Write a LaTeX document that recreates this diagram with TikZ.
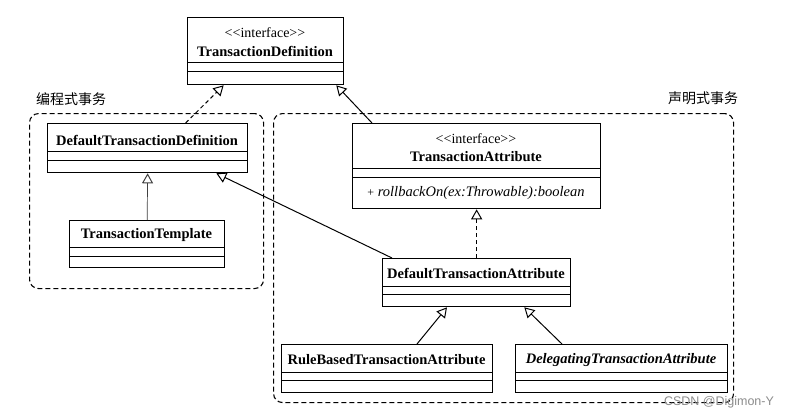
\documentclass[tikz,border=0pt]{standalone}
\usepackage{fontspec}
\setmainfont{Liberation Serif}
\newfontfamily\plainserif{Liberation Serif}[Ligatures=TeXOff]
\newfontfamily\cjk{Noto Sans CJK SC}
\newfontfamily\wmfont{Liberation Sans}
\usetikzlibrary{arrows.meta,calc}
\begin{document}
\begin{tikzpicture}[x=1pt,y=-1pt,
  umlbox/.style={draw,line width=1.3pt,inner sep=0pt,anchor=north west},
  sepline/.style={line width=0.8pt},
  cname/.style={font=\fontsize{14.5}{16}\selectfont\bfseries,inner sep=0pt},
  stereo/.style={font=\fontsize{14}{16}\selectfont\plainserif,inner sep=0pt},
  optext/.style={font=\fontsize{14.5}{16}\selectfont\itshape,inner sep=0pt},
  region/.style={draw,line width=1.1pt,dash pattern=on 5pt off 3pt,rounded corners=9pt},
  grp/.style={font=\fontsize{14}{16}\selectfont\cjk,inner sep=0pt},
  inherit/.style={line width=1pt,-{Triangle[open,length=10pt,width=11pt,line width=1pt]}},
  realize/.style={inherit,dash pattern=on 4pt off 3pt}]
\useasboundingbox (0,0) rectangle (811,420);
\fill[white] (0,0) rectangle (811,420);

% regions
\node[region,minimum width=234pt,minimum height=175pt,anchor=north west,inner sep=0pt] (regL) at (29,113) {};
\node[region,minimum width=460pt,minimum height=289pt,anchor=north west,inner sep=0pt] (regR) at (273,113) {};
\node[grp] (labL) at (71,99) {编程式事务};
\node[grp] (labR) at (703,98) {声明式事务};

% TransactionDefinition
\node[umlbox,minimum width=156pt,minimum height=67pt] (td) at (187,17) {};
\draw[sepline] (187,62) -- (343,62) (187,71) -- (343,71);
\node[stereo] (tdS) at (265,33) {<<interface>>};
\node[cname] (tdN) at (265,51) {TransactionDefinition};

% DefaultTransactionDefinition
\node[umlbox,minimum width=200pt,minimum height=49pt] (dtd) at (47,123) {};
\draw[sepline] (47,151) -- (247,151) (47,160) -- (247,160);
\node[cname] (dtdN) at (147,140) {DefaultTransactionDefinition};

% TransactionTemplate
\node[umlbox,minimum width=155pt,minimum height=47pt] (tt) at (69,220) {};
\draw[sepline] (69,247) -- (224,247) (69,256) -- (224,256);
\node[cname] (ttN) at (146.5,235) {TransactionTemplate};

% TransactionAttribute
\node[umlbox,minimum width=248pt,minimum height=85pt] (ta) at (352,123) {};
\draw[sepline] (352,168) -- (600,168) (352,177) -- (600,177);
\node[stereo] (taS) at (476,139) {<<interface>>};
\node[cname] (taN) at (476,157) {TransactionAttribute};
\node[optext] (taO) at (476,193) {{\upshape\fontsize{12}{14}\selectfont +} rollbackOn(ex:Throwable):boolean};

% DefaultTransactionAttribute
\node[umlbox,minimum width=188pt,minimum height=48pt] (dta) at (382,258) {};
\draw[sepline] (382,286) -- (570,286) (382,294) -- (570,294);
\node[cname] (dtaN) at (476,273) {DefaultTransactionAttribute};

% RuleBasedTransactionAttribute
\node[umlbox,minimum width=211pt,minimum height=48pt] (rb) at (281,344) {};
\draw[sepline] (281,372) -- (492,372) (281,380) -- (492,380);
\node[cname] (rbN) at (386.5,360) {RuleBasedTransactionAttribute};

% DelegatingTransactionAttribute
\node[umlbox,minimum width=212pt,minimum height=48pt] (dg) at (515,344) {};
\draw[sepline] (515,372) -- (727,372) (515,380) -- (727,380);
\node[cname,font=\fontsize{14.5}{16}\selectfont\bfseries\itshape] (dgN) at (621,360) {DelegatingTransactionAttribute};

% connectors
\draw[realize] ($(dtd.north)+(38,0)$) -- ($(td.south)+(-42,0)$);
\draw[inherit] ($(ta.north west)+(20,0)$) -- ($(td.south east)+(-8,0)$);
\draw[inherit,line width=0.7pt,draw=black!75] (tt.north) -- (dtd.south);
\draw[inherit] ($(dta.north west)+(10,0)$) -- ($(dtd.south east)+(-32,0)$);
\draw[realize] (dta.north) -- (ta.south);
\draw[inherit] ($(rb.north west)+(136,0)$) -- ($(dta.south west)+(65,0)$);
\draw[inherit] ($(dg.north west)+(47,0)$) -- ($(dta.south east)+(-47,0)$);

% watermark
\node[font=\fontsize{12.5}{14}\selectfont\wmfont,text=black!45,inner sep=0pt] (wm) at (719,402) {CSDN @Digimon-Y};
\end{tikzpicture}
\end{document}
